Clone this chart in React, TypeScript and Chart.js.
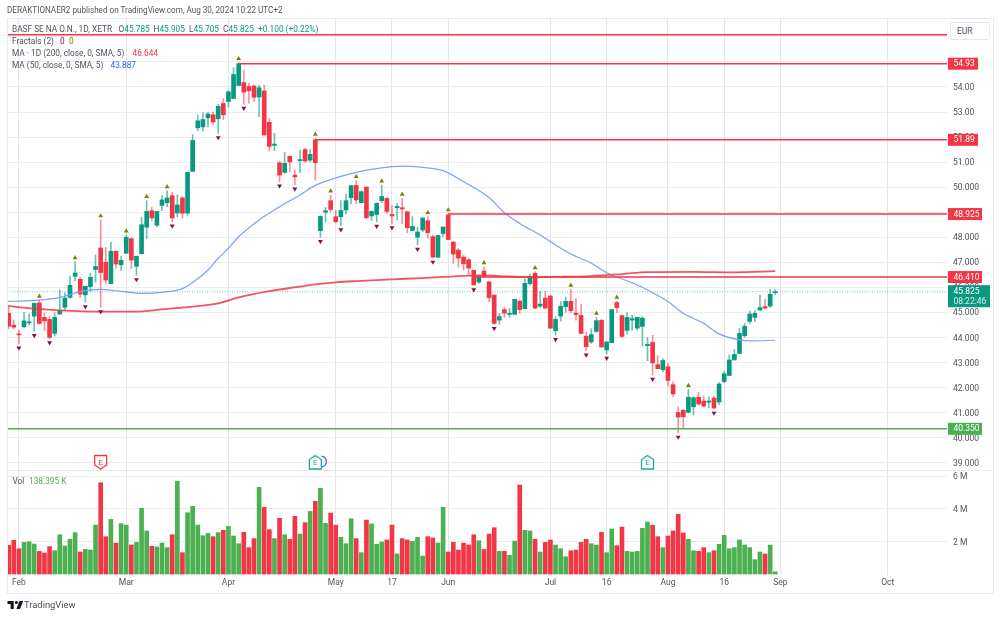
import React, { useEffect, useRef } from "react";
import { Chart, registerables } from "chart.js";

Chart.register(...registerables);

const opens = [44.96,44.49,44.13,44.42,44.58,44.85,45.38,44.8,44.72,44.16,44.93,45.2,45.6,46.44,46.32,45.7,46.03,46.71,47.57,47.0,46.15,47.44,46.9,47.36,47.94,46.84,47.34,48.4,49.06,48.48,49.27,49.38,49.66,48.97,49.57,48.96,50.63,52.37,52.41,52.77,52.89,52.73,53.34,53.42,53.54,54.06,54.18,54.02,54.04,53.6,53.84,52.59,51.67,50.97,50.59,51.23,50.48,51.06,51.5,51.08,51.89,48.26,49.0,49.46,48.82,48.82,49.09,49.58,50.07,49.38,50.0,48.85,48.91,49.46,49.55,48.91,49.18,49.18,49.02,48.27,48.0,48.29,48.66,48.02,47.2,48.15,48.89,47.81,47.49,47.21,47.1,46.68,46.21,46.65,46.22,45.69,44.69,45.11,44.92,44.92,45.45,45.15,46.15,46.56,45.25,45.57,45.65,44.27,44.85,45.23,45.44,44.97,44.88,44.05,43.82,44.24,44.68,43.5,43.79,45.39,44.87,44.28,44.69,44.37,44.44,43.67,43.8,42.91,42.71,42.83,42.11,41.0,41.09,41.01,41.23,41.61,41.46,41.41,41.58,41.42,42.24,42.48,43.1,43.36,44.07,44.64,44.8,45.09,45.23,45.25,45.785];
const highs = [45.2,44.7,44.28,45.0,44.93,45.38,45.48,44.98,44.83,44.98,45.9,45.78,46.45,47.02,46.4,46.05,46.56,47.29,48.69,47.6,47.81,47.45,47.25,48.09,47.98,47.25,48.8,49.46,49.2,49.03,49.67,49.85,49.79,49.69,49.62,50.6,52.1,52.87,52.97,53.0,53.0,53.31,53.54,53.85,54.77,54.97,54.67,54.15,54.08,54.08,54.07,52.75,52.15,51.03,51.39,51.25,50.68,51.48,51.55,51.51,51.95,48.85,49.19,49.68,49.06,49.46,49.72,50.07,50.26,49.86,50.02,49.06,49.38,50.08,49.59,49.25,49.35,49.55,49.02,48.82,48.4,48.77,48.82,48.09,48.09,48.41,48.93,47.81,47.55,47.29,47.16,46.69,46.49,46.82,46.24,45.69,44.96,45.2,45.16,45.53,45.49,46.33,46.53,46.62,45.84,45.84,45.69,44.83,45.43,45.6,45.92,45.55,45.32,44.21,44.35,44.8,44.72,43.82,45.12,45.44,44.89,44.99,44.89,44.8,44.83,44.0,44.08,43.27,43.15,42.96,42.23,41.23,41.13,41.92,41.63,41.82,41.66,41.63,41.66,42.2,42.63,43.3,43.52,44.36,44.56,45.05,45.07,45.68,45.52,45.92,45.905];
const lows = [44.35,44.33,43.75,44.4,44.5,44.25,44.53,44.28,43.96,44.05,44.93,45.09,45.56,46.27,45.6,45.4,45.83,46.2,45.2,46.13,46.15,46.77,46.67,47.36,46.75,46.48,47.34,47.94,48.66,48.42,49.06,49.22,48.62,48.82,48.77,48.87,50.63,52.25,52.24,52.41,52.52,52.15,52.7,53.2,53.54,54.06,53.32,53.35,53.42,52.81,52.08,51.44,51.45,50.22,50.55,50.62,50.1,50.58,51.0,51.0,50.28,48.0,48.61,49.02,48.58,48.47,48.93,49.33,49.35,49.38,48.73,48.66,48.61,49.38,48.95,48.55,48.69,48.55,48.18,48.27,47.69,48.22,47.97,47.18,47.2,48.02,47.91,46.96,46.8,46.69,46.49,46.08,46.16,46.42,45.43,44.53,44.53,44.8,44.8,44.92,44.96,45.15,46.09,45.15,45.2,45.15,44.35,44.09,44.65,45.01,44.99,44.69,44.14,43.47,43.76,44.19,43.6,43.34,43.79,44.99,44.0,44.13,44.29,44.29,43.66,43.07,42.5,42.75,42.63,42.06,41.63,40.19,40.39,40.98,40.9,41.29,41.23,41.18,41.15,41.31,42.19,42.47,43.1,43.36,44.0,44.56,44.63,45.09,45.15,45.2,45.705];
const closes = [44.45,44.41,44.1,44.66,44.62,45.36,44.56,44.66,44.0,44.8,45.07,45.57,46.08,46.57,45.73,46.04,46.4,46.83,46.59,46.29,47.44,46.93,47.08,48.0,47.09,47.24,48.5,49.03,48.77,49.03,49.49,49.57,48.77,49.29,48.96,50.59,51.87,52.65,52.7,52.92,52.6,53.23,52.89,53.81,54.5,54.93,53.8,53.85,53.59,53.97,52.08,51.63,51.72,50.48,50.95,51.01,50.41,51.09,51.04,51.31,50.98,48.83,49.06,49.11,48.62,49.07,49.46,50.06,49.49,49.82,48.78,49.03,49.35,49.63,49.03,48.85,49.23,49.13,48.38,48.43,48.21,48.77,48.18,47.21,48.07,48.41,47.91,47.33,47.17,46.94,46.77,46.1,46.44,46.44,45.59,44.56,44.83,44.97,44.95,45.52,45.11,46.16,46.4,45.17,45.33,45.17,44.37,44.72,45.24,45.44,45.07,44.91,44.16,43.63,44.11,44.67,43.62,43.82,45.11,45.19,44.04,44.8,44.75,44.8,44.77,43.72,42.98,42.75,43.08,42.28,41.74,40.82,40.83,41.61,41.59,41.34,41.26,41.46,41.18,42.14,42.55,43.1,43.32,44.16,44.44,44.93,44.96,45.19,45.17,45.72,45.825];
const volumes = [1.76,2.07,1.55,1.94,1.98,1.84,1.39,1.29,1.68,1.43,2.41,1.72,2.13,2.54,1.35,1.51,1.47,3.0,5.6,2.29,3.35,1.9,3.09,3.0,1.78,1.94,4.03,2.64,1.7,1.66,1.9,1.62,2.41,5.69,1.31,3.76,4.15,3.0,2.35,2.49,2.29,2.54,2.68,2.92,2.33,1.86,2.56,1.62,2.17,5.32,4.09,2.72,2.17,3.42,2.41,2.13,3.54,2.45,3.15,3.84,4.46,5.26,3.11,3.74,2.99,2.25,1.86,3.39,2.17,1.31,3.31,3.07,1.82,1.96,2.09,3.0,1.23,2.17,2.09,2.0,2.25,1.1,2.29,2.21,1.9,4.09,1.35,1.94,1.47,1.9,1.78,2.41,2.04,1.51,2.45,2.84,1.39,1.39,1.15,2.02,5.46,2.68,2.64,2.13,1.35,1.94,2.09,1.78,1.55,1.06,1.43,1.47,1.94,2.13,1.86,1.78,2.56,1.31,2.76,1.74,2.88,1.39,1.35,1.39,2.8,3.19,2.99,2.29,1.62,2.33,2.64,3.66,2.52,2.13,1.43,1.39,1.62,1.31,1.43,1.82,2.37,1.55,1.62,2.09,1.78,1.62,0.88,1.35,1.23,1.78,0.138];

const ma50Idx = [-1,5,10,14,18,22,26,30,34,36,39,41,43,45,49,53,57,60,68,75,77,81,85,89,94,97,100,104,108,110,114,117,122,125,129,132,136,139,143,145,150];
const ma50Val = [45.43,45.48,45.59,45.83,45.92,45.84,45.76,45.8,45.95,46.19,46.69,47.16,47.56,48.02,48.69,49.22,49.69,50.07,50.59,50.82,50.84,50.79,50.66,50.22,49.59,48.98,48.55,48.09,47.56,47.33,46.96,46.58,46.18,45.89,45.43,44.96,44.56,44.14,43.9,43.86,43.887];
const ma200Idx = [-1,5,10,18,25,30,35,41,45,51,57,60,64,68,75,81,88,92,96,101,108,114,120,125,134,142,150];
const ma200Val = [45.27,45.15,45.08,45.03,45.03,45.12,45.21,45.36,45.6,45.85,46.03,46.12,46.2,46.25,46.32,46.37,46.45,46.48,46.45,46.41,46.42,46.45,46.53,46.61,46.62,46.6,46.644];

const levelValues = [56.09, 54.93, 51.89, 48.925, 46.41, 40.35];
const levelStarts = [-0.33, 45, 60, 86, 91, -0.33];
const levelColors = ["#f23645", "#f23645", "#f23645", "#f23645", "#f23645", "#4caf50"];
const tagValues = [54.93, 51.89, 48.925, 46.41, 40.35];
const tagTexts = ["54.93", "51.89", "48.925", "46.410", "40.350"];
const tagColors = ["#f23645", "#f23645", "#f23645", "#f23645", "#4caf50"];
const lastPrice = 45.825;
const lastPriceTexts = ["45.825", "08:22:46"];

const fractalUpIdx = [6,13,18,23,27,31,45,60,63,68,73,77,82,86,93,103,110,115,119,133];
const fractalDownIdx = [2,5,8,15,18,25,32,41,46,53,56,61,65,72,75,80,83,91,95,107,113,117,126,131,138];
const earningsIdx = [18, 60, 125];

const xTickIdx = [2,23,43,64,75,86,106,117,129,140,151,172];
const xTickLabels = ["Feb","Mar","Apr","May","17","Jun","Jul","16","Aug","16","Sep","Oct"];
const priceTicks = [56,55,54,53,52,51,50,49,48,47,46,45,44,43,42,41,40,39];
const priceTickLabels = ["","","54.00","53.00","52.00","51.00","50.000","49.000","48.000","47.000","46.000","45.000","44.000","43.000","42.000","41.000","40.000","39.000"];
const volTicks = [2,4,6];
const volTickLabels = ["2 M","4 M","6 M"];

const GREEN = "#089981";
const RED = "#f23645";
const VGREEN = "#4caf50";
const FONT = 'Roboto, sans-serif';
const TXT = "#50535e";
const FS = 8.5;
const LEGEND_FS = 8.3;

const xMin = -0.33;
const xMax = 183.6;

const overlay = {
  id: "overlay",
  afterDraw(chart: any) {
    const { ctx, scales } = chart;
    const y = scales.y;
    const x = scales.x;
    ctx.save();
    // frame
    ctx.strokeStyle = "#e8eaf0";
    ctx.lineWidth = 1;
    ctx.strokeRect(7.5, 18.5, 986, 575);
    ctx.beginPath();
    ctx.moveTo(7, 470.5);
    ctx.lineTo(993, 470.5);
    ctx.stroke();
    // level tags
    ctx.font = `${FS}px ${FONT}`;
    ctx.textBaseline = "middle";
    tagValues.forEach((v, i) => {
      const py = y.getPixelForValue(v);
      const w = tagTexts[i].length > 5 ? 34 : 30;
      ctx.fillStyle = tagColors[i];
      ctx.fillRect(948, py - 6, w, 12);
      ctx.fillStyle = "#ffffff";
      ctx.textAlign = "left";
      ctx.fillText(tagTexts[i], 953.5, py + 0.5);
    });
    // last price tag
    const ly = y.getPixelForValue(lastPrice);
    ctx.fillStyle = GREEN;
    ctx.fillRect(948, ly - 6.5, 42, 22);
    ctx.fillStyle = "#ffffff";
    ctx.fillText(lastPriceTexts[0], 953.5, ly + 0.5);
    ctx.fillStyle = "#d5f0ea";
    ctx.fillText(lastPriceTexts[1], 953.5, ly + 10);
    // earnings
    earningsIdx.forEach((idx, i) => {
      const px = x.getPixelForValue(idx);
      const top = 455.5;
      const bottom = 469;
      const col = i === 0 ? RED : "#22ab94";
      if (i === 1) {
        ctx.strokeStyle = "#2962ff";
        ctx.lineWidth = 1.2;
        ctx.beginPath();
        ctx.arc(px + 5.5, 461.5, 5.5, -Math.PI / 2.2, Math.PI / 2.2);
        ctx.stroke();
      }
      ctx.fillStyle = "#ffffff";
      ctx.strokeStyle = col;
      ctx.lineWidth = 1.3;
      ctx.beginPath();
      if (i === 0) {
        ctx.moveTo(px - 6, top);
        ctx.lineTo(px + 6, top);
        ctx.lineTo(px + 6, bottom - 4);
        ctx.lineTo(px, bottom);
        ctx.lineTo(px - 6, bottom - 4);
      } else {
        ctx.moveTo(px, top);
        ctx.lineTo(px + 6, top + 4);
        ctx.lineTo(px + 6, bottom);
        ctx.lineTo(px - 6, bottom);
        ctx.lineTo(px - 6, top + 4);
      }
      ctx.closePath();
      ctx.fill();
      ctx.stroke();
      ctx.fillStyle = col;
      ctx.font = `8px ${FONT}`;
      ctx.textAlign = "center";
      ctx.fillText("E", px, 462.5);
    });
    ctx.restore();
  },
};

const absText = (left: number, top: number, extra: any = {}) => ({
  position: "absolute" as const,
  left,
  top,
  lineHeight: "12px",
  whiteSpace: "nowrap" as const,
  color: TXT,
  fontFamily: FONT,
  fontSize: LEGEND_FS,
  ...extra,
});

export default function App() {
  const ref = useRef<HTMLCanvasElement>(null);
  useEffect(() => {
    const idx = opens.map((_, i) => i);
    const isUp = idx.map((i) => closes[i] >= opens[i]);
    const chart = new Chart(ref.current as HTMLCanvasElement, {
      type: "bar",
      data: {
        datasets: [
          {
            type: "bar",
            label: "Wicks",
            data: idx.map((i) => ({ x: i, y: [lows[i], highs[i]] })),
            backgroundColor: idx.map((i) => (isUp[i] ? "rgba(8,153,129,0.6)" : "rgba(242,54,69,0.55)")),
            barThickness: 1,
            grouped: false,
            yAxisID: "y",
            order: 6,
          },
          {
            type: "bar",
            label: "Bodies",
            data: idx.map((i) => ({ x: i, y: [opens[i], closes[i]] })),
            backgroundColor: idx.map((i) => (isUp[i] ? GREEN : RED)),
            barThickness: 4,
            minBarLength: 1,
            grouped: false,
            yAxisID: "y",
            order: 5,
          },
          {
            type: "bar",
            label: "Vol",
            data: idx.map((i) => ({ x: i, y: volumes[i] })),
            backgroundColor: idx.map((i) => (isUp[i] ? VGREEN : RED)),
            barThickness: 4,
            grouped: false,
            yAxisID: "yv",
            order: 5,
          },
          {
            type: "line",
            label: "MA 200",
            data: ma200Idx.map((v, i) => ({ x: v, y: ma200Val[i] })),
            borderColor: "rgba(242,54,69,0.85)",
            borderWidth: 1.8,
            pointRadius: 0,
            cubicInterpolationMode: "monotone",
            yAxisID: "y",
            order: 3,
          },
          {
            type: "line",
            label: "MA 50",
            data: ma50Idx.map((v, i) => ({ x: v, y: ma50Val[i] })),
            borderColor: "#7f9ffb",
            borderWidth: 1.2,
            pointRadius: 0,
            cubicInterpolationMode: "monotone",
            yAxisID: "y",
            order: 3,
          },
          ...levelValues.map((v, i) => ({
            type: "line" as const,
            label: `Level ${v}`,
            data: [
              { x: levelStarts[i], y: v },
              { x: xMax, y: v },
            ],
            borderColor: levelColors[i],
            borderWidth: 1.5,
            pointRadius: 0,
            yAxisID: "y",
            order: 2,
          })),
          {
            type: "line",
            label: "Last",
            data: [
              { x: xMin, y: lastPrice },
              { x: xMax, y: lastPrice },
            ],
            borderColor: "rgba(8,153,129,0.55)",
            borderWidth: 1,
            borderDash: [1, 1.5],
            pointRadius: 0,
            yAxisID: "y",
            order: 4,
          },
          {
            type: "scatter",
            label: "Fractal up",
            data: fractalUpIdx.map((i) => ({ x: i, y: highs[i] + 0.16 })),
            backgroundColor: "#808000",
            pointStyle: "triangle",
            pointRadius: 2.8,
            pointBorderWidth: 0,
            yAxisID: "y",
            order: 1,
          },
          {
            type: "scatter",
            label: "Fractal down",
            data: fractalDownIdx.map((i) => ({ x: i, y: lows[i] - 0.17 })),
            backgroundColor: "#880e4f",
            pointStyle: "triangle",
            pointRotation: 180,
            pointRadius: 2.8,
            pointBorderWidth: 0,
            yAxisID: "y",
            order: 1,
          },
        ] as any,
      },
      options: {
        responsive: false,
        animation: false,
        layout: { padding: { left: 7, top: 18, right: 0, bottom: 25 } },
        plugins: { legend: { display: false }, tooltip: { enabled: false } },
        scales: {
          x: {
            type: "linear",
            offset: false,
            min: xMin,
            max: xMax,
            afterBuildTicks: (s: any) => {
              s.ticks = xTickIdx.map((v) => ({ value: v }));
            },
            afterFit: (s: any) => {
              s.height = 18;
            },
            grid: { color: "#e3e4e8", drawTicks: false, lineWidth: 1, offset: false },
            border: { display: false },
            ticks: {
              autoSkip: false,
              maxRotation: 0,
              padding: 3,
              color: TXT,
              font: { family: FONT, size: FS },
              callback: (v: any) => xTickLabels[xTickIdx.indexOf(Number(v))] ?? "",
            },
          },
          y: {
            type: "linear",
            position: "right",
            stack: "panes",
            stackWeight: 452,
            min: 38.705,
            max: 56.755,
            afterBuildTicks: (s: any) => {
              s.ticks = priceTicks.map((v) => ({ value: v }));
            },
            afterFit: (s: any) => {
              s.width = 53;
            },
            grid: { color: "#ecedf1", drawTicks: false },
            border: { display: false },
            ticks: {
              autoSkip: false,
              padding: 6,
              labelOffset: 1,
              color: TXT,
              font: { family: FONT, size: FS },
              callback: (v: any) => priceTickLabels[priceTicks.indexOf(Number(v))] ?? "",
            },
          },
          yv: {
            type: "linear",
            position: "right",
            stack: "panes",
            stackWeight: 105,
            min: -0.06,
            max: 6.38,
            afterBuildTicks: (s: any) => {
              s.ticks = volTicks.map((v) => ({ value: v }));
            },
            afterFit: (s: any) => {
              s.width = 53;
            },
            grid: { color: "#ecedf1", drawTicks: false },
            border: { display: false },
            ticks: {
              autoSkip: false,
              padding: 6,
              labelOffset: 1,
              color: TXT,
              font: { family: FONT, size: FS },
              callback: (v: any) => volTickLabels[volTicks.indexOf(Number(v))] ?? "",
            },
          },
        },
      } as any,
      plugins: [overlay],
    });
    return () => chart.destroy();
  }, []);

  const T = GREEN;
  return (
    <div style={{ position: "absolute", left: 0, top: 0, width: 1000, height: 618, background: "#fff", overflow: "hidden" }}>
      <canvas ref={ref} width={1000} height={618} style={{ position: "absolute", left: 0, top: 0, display: "block" }} />
      <div style={absText(7, 4, { fontSize: 8.15 })}>DERAKTIONAER2 published on TradingView.com, Aug 30, 2024 10:22 UTC+2</div>
      <div style={absText(12, 23)}>BASF SE NA O.N., 1D, XETR</div>
      <div style={absText(118.5, 23)}>O<span style={{ color: T }}>45.785</span></div>
      <div style={absText(153.5, 23)}>H<span style={{ color: T }}>45.905</span></div>
      <div style={absText(189, 23)}>L<span style={{ color: T }}>45.705</span></div>
      <div style={absText(223, 23)}>C<span style={{ color: T }}>45.825</span></div>
      <div style={absText(258, 23, { color: T })}>+0.100 (+0.22%)</div>
      <div style={absText(12, 35)}>Fractals (2)</div>
      <div style={absText(60, 35, { color: "#880e4f" })}>0</div>
      <div style={absText(69, 35, { color: "#808000" })}>0</div>
      <div style={absText(12, 47)}>MA · 1D (200, close, 0, SMA, 5)</div>
      <div style={absText(132.5, 47, { color: RED })}>46.644</div>
      <div style={absText(12, 59)}>MA (50, close, 0, SMA, 5)</div>
      <div style={absText(110.5, 59, { color: "#2962ff" })}>43.887</div>
      <div style={absText(12.5, 475)}>Vol</div>
      <div style={absText(29, 475, { color: VGREEN })}>138.395 K</div>
      <div
        style={{
          position: "absolute",
          left: 950,
          top: 22,
          width: 40,
          height: 18,
          boxSizing: "border-box",
          border: "1px solid #e6e8ee",
          borderRadius: 3,
          background: "#fff",
          color: TXT,
          fontFamily: FONT,
          fontSize: FS,
          lineHeight: "16px",
          paddingLeft: 6,
        }}
      >
        EUR
      </div>
      <svg width={17} height={8} viewBox="0 0 36 18" style={{ position: "absolute", left: 7, top: 601 }}>
        <path d="M14 18H7V7H0V0h14v18zM28 18h-8l7-18h8.5L28 18z" fill="#131722" />
        <circle cx="20" cy="3.5" r="3.5" fill="#131722" />
      </svg>
      <div style={absText(24, 599, { fontSize: 9.4, color: "#4a4d57" })}>TradingView</div>
    </div>
  );
}
